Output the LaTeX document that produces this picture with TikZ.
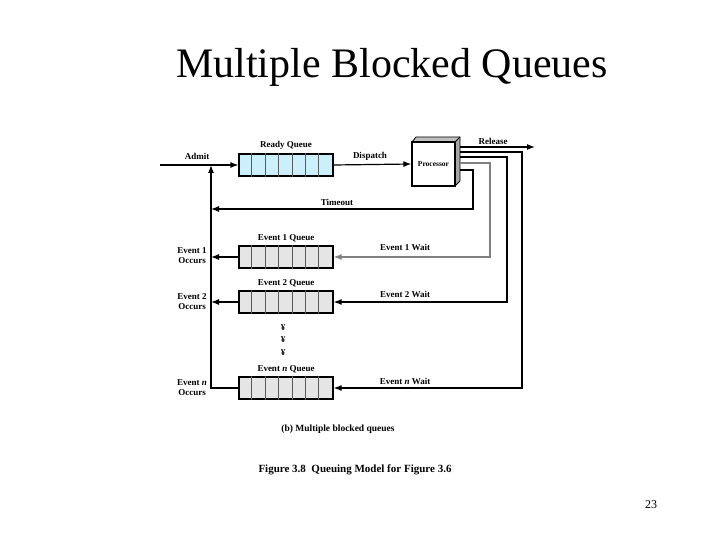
\documentclass[tikz,border=0pt]{standalone}
\usepackage{fontspec}
\setmainfont{Liberation Serif}
\usetikzlibrary{positioning,arrows.meta}
\begin{document}
\begin{tikzpicture}[x=1pt,y=-1pt,%%
  arrowStyle/.style={-{Latex[length=8pt,width=6pt]},very thick},%%
  queueStyle/.style={draw,very thick,minimum width=94pt,minimum height=22pt,inner sep=0pt},%%
  labelStyle/.style={font=\bfseries\fontsize{9}{10}\selectfont,align=center},%%
]
%%
\useasboundingbox (0,0) rectangle (720,540);
%%
%% Title and captions.
\node (title) at (392,67) {\fontsize{42}{44}\selectfont Multiple Blocked Queues};
\node[font=\fontsize{9.5}{11}\selectfont\bfseries] (caption) at (338,429) {(b) Multiple blocked queues};
\node[font=\fontsize{11}{13}\selectfont\bfseries] (figure) at (355,470) {Figure 3.8\ \ Queuing Model for Figure 3.6};
\node[font=\fontsize{12}{14}\selectfont] (page) at (651,505) {23};
%%
%% The queues.
\node[queueStyle,fill=cyan!20] (ready) at (286,165) {};
\node[queueStyle,fill=gray!20] (qone) at (286,257) {};
\node[queueStyle,fill=gray!20] (qtwo) at (286,302) {};
\node[queueStyle,fill=gray!20] (qn) at (286,388) {};
\foreach \q in {ready,qone,qtwo,qn}{
  \foreach \i in {1,...,6}
    \draw[gray!70!black,thick] ([xshift=\i*13.4pt]\q.north west) -- ([xshift=\i*13.4pt]\q.south west);
}
\node[labelStyle,above=0pt of ready] {Ready Queue};
\node[labelStyle,above=0pt of qone] {Event 1 Queue};
\node[labelStyle,above=0pt of qtwo] {Event 2 Queue};
\node[labelStyle,above=0pt of qn] {Event \textit{n} Queue};
%%
%% The processor.
\fill[gray!50] (412,142) -- (416,137) -- (460,137) -- (455,142) -- cycle;
\fill[gray!70] (455,142) -- (460,137) -- (460,181) -- (455,186) -- cycle;
\node[draw,very thick,fill=white,minimum width=43pt,minimum height=44pt,inner sep=0pt,labelStyle,font=\bfseries\fontsize{7.5}{8}\selectfont] (proc) at (433.5,164) {Processor};
\draw[thick] (412,142) -- (416,137) -- (460,137) -- (460,181) -- (455,186);
\draw[thick] (455,142) -- (460,137);
%%
%% Coordinates for the connectors.
\coordinate (admitStart) at (160,165);
\coordinate (releaseStart) at (460,147);
\coordinate (releaseEnd) at (535,147);
\coordinate (loopTop) at (211,165);
\coordinate (loopBottom) at (211,388);
\coordinate (timeoutEnd) at (211,209);
%%
%% Ready queue and dispatch.
\draw[arrowStyle] (admitStart) -- (ready.west);
\node[labelStyle] at (197,156) {Admit};
\draw[arrowStyle] (ready.east) -- (proc.west);
\node[labelStyle] at (370,156) {Dispatch};
\draw[arrowStyle] (releaseStart) -- (releaseEnd);
\node[labelStyle] at (493,141) {Release};
%%
%% Return paths from the processor.
\draw[arrowStyle] (460,170) -- (473,170) -- (473,209) -- (timeoutEnd);
\node[labelStyle] at (337,202) {Timeout};
\draw[arrowStyle,gray] (460,163) -- (490,163) -- (490,257) -- (qone.east);
\node[labelStyle] at (405,247) {Event 1 Wait};
\draw[arrowStyle] (460,157) -- (507,157) -- (507,302) -- (qtwo.east);
\node[labelStyle] at (405,294) {Event 2 Wait};
\draw[arrowStyle] (460,152) -- (522,152) -- (522,388) -- (qn.east);
\node[labelStyle] at (405,381) {Event \textit{n} Wait};
%%
%% Back to the ready queue.
\draw[arrowStyle] (qn.west) -- (loopBottom) -- (loopTop);
\draw[arrowStyle] (qone.west) -- (211,257);
\draw[arrowStyle] (qtwo.west) -- (211,302);
\node[labelStyle] at (192,256) {Event 1\\Occurs};
\node[labelStyle] at (192,302) {Event 2\\Occurs};
\node[labelStyle] at (192,388) {Event \textit{n}\\Occurs};
%%
%% The dots.
\foreach \y in {328,340,353}
  \node[labelStyle] at (283,\y) {¥};
\end{tikzpicture}
\end{document}
